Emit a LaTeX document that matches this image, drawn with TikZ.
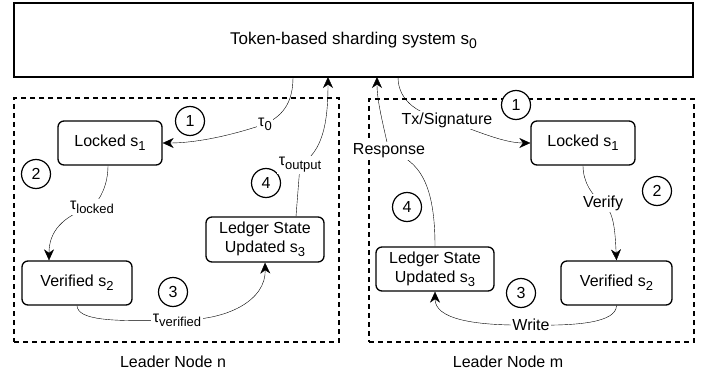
\documentclass[tikz,border=0pt]{standalone}
\usepackage{fontspec}
\setmainfont{Liberation Sans}
\usetikzlibrary{arrows.meta,calc}
\pgfdeclarelayer{bg}
\pgfsetlayers{bg,main}
\newcommand\sbs[1]{\raisebox{-4pt}{\fontsize{13}{13}\selectfont #1}}
\begin{document}
\begin{tikzpicture}[x=1pt,y=-1pt,
  font=\fontsize{16}{19}\selectfont,
  line width=1.4pt,
  statebox/.style={draw, rounded corners=6pt, minimum width=#1, minimum height=44pt, inner sep=2pt, align=center, line width=1.3pt},
  numc/.style={draw, fill=white, circle, minimum size=29pt, inner sep=0pt, line width=1.2pt},
  lbl/.style={fill=white, inner sep=1.5pt},
  arr/.style={-{Stealth[length=11pt,width=10pt,inset=3.5pt]}},
  dbox/.style={draw, dash pattern=on 5pt off 4pt, inner sep=0pt, line width=1.2pt},
]
\useasboundingbox (0,0) rectangle (708,374);

% main system
\node[draw, line width=1.3pt, minimum width=679pt, minimum height=74pt, font=\fontsize{17}{20}\selectfont] (top) at (353.5,40) {Token-based sharding system s\raisebox{-4pt}{\fontsize{14}{14}\selectfont 0}};

% leader boxes
\node[dbox, minimum width=325pt, minimum height=244pt] (leftbox) at (176.5,220) {};
\node[dbox, minimum width=325pt, minimum height=243pt] (rightbox) at (531.5,220.5) {};
\node (capn) at (173,362) {Leader Node n};
\node (capm) at (508,362) {Leader Node m};

% left states
\node[statebox=104pt] (L1) at (110,143) {Locked s\sbs{1}};
\node[statebox=110pt] (L2) at (77,283) {Verified s\sbs{2}};
\node[statebox=118pt, minimum height=45pt] (L3) at (265,239.5) {Ledger State\\Updated s\sbs{3}};

% right states
\node[statebox=104pt] (R1) at (583,143) {Locked s\sbs{1}};
\node[statebox=111pt] (R2) at (616.5,283) {Verified s\sbs{2}};
\node[statebox=118pt] (R3) at (435,269) {Ledger State\\Updated s\sbs{3}};

% step circles
\node[numc] (cl1) at (190,121) {1};
\node[numc] (cl2) at (36,174) {2};
\node[numc] (cl3) at (173,292) {3};
\node[numc] (cl4) at (266,183) {4};
\node[numc] (cr1) at (516,105) {1};
\node[numc] (cr2) at (657,191) {2};
\node[numc] (cr3) at (521,293) {3};
\node[numc] (cr4) at (407,207) {4};

% edge labels
\node[lbl] (tau0) at (265,124) {τ\sbs{0}};
\node[lbl] (tlocked) at (92,207) {τ\sbs{locked}};
\node[lbl] (tverified) at (177,320) {τ\sbs{verified}};
\node[lbl] (toutput) at (300,165) {τ\sbs{output}};
\node[lbl] (txsig) at (447,120) {Tx/Signature};
\node[lbl] (resp) at (389,151) {Response};
\node[lbl] (verify) at (603,203) {Verify};
\node[lbl] (write) at (531,325) {Write};

% free ends on the system box
\coordinate (t1) at (293,77);
\coordinate (t2) at (328,77);
\coordinate (t3) at (398,77);
\coordinate (t4) at (377,77);

\begin{pgfonlayer}{bg}
\draw[arr] (t1) .. controls (293,100) and (285,115) .. (tau0.center) .. controls (230,136) and (195,143) .. (L1.east);
\draw[arr] ($(L3.north)+(31,0)$) -- (toutput.center) .. controls (322,152) and (328,125) .. (t2);
\draw[arr] ($(L1.south)+(-2,0)$) .. controls (108,185) and (100,200) .. (tlocked.center) .. controls (62,216) and (49,232) .. ($(L2.north)+(-28,0)$);
\draw[arr] (L2.south) .. controls (78,320) and (110,322) .. (tverified.center) .. controls (228,321) and (266,300) .. (L3.south);
\draw[arr] (t3) .. controls (398,102) and (420,115) .. (txsig.center) .. controls (478,132) and (505,143) .. (R1.west);
\draw[arr] (R3.north) .. controls (435,185) and (420,160) .. (resp.center) .. controls (382,120) and (377,100) .. (t4);
\draw[arr] (R1.south) .. controls (583,182) and (592,196) .. (verify.center) .. controls (614,212) and (615,230) .. (R2.north);
\draw[arr] (R2.south) .. controls (616,322) and (580,326) .. (write.center) .. controls (470,326) and (435,318) .. (R3.south);
\end{pgfonlayer}
\end{tikzpicture}
\end{document}
